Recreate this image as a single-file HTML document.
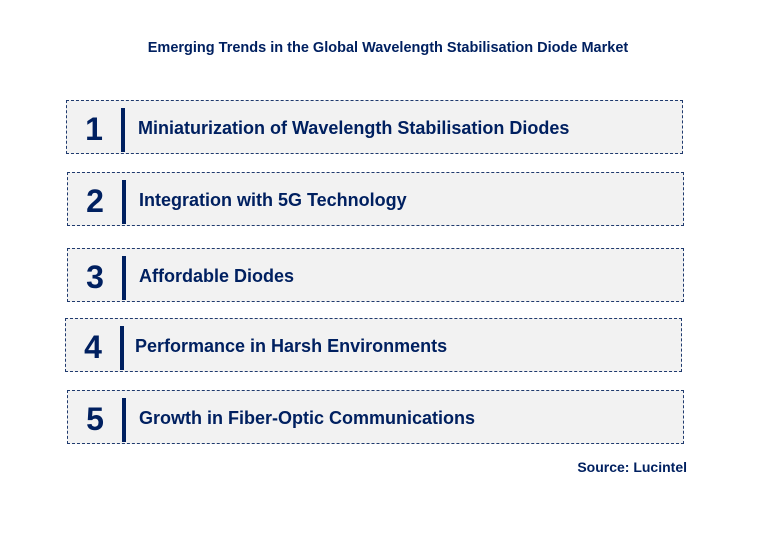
<!DOCTYPE html>
<html><head><meta charset="utf-8"><style>
body{margin:0;width:776px;height:541px;background:#fff;font-family:"Liberation Sans",sans-serif;position:relative;overflow:hidden;color:#002060}
.t{position:absolute;left:0;width:776px;text-align:center;top:40px;font-size:14.5px;font-weight:bold}
.box{position:absolute;width:617px;height:54px;background:#f2f2f2;border:1px dashed #1f3a6e;box-sizing:border-box}
.n{position:absolute;left:14px;width:26px;text-align:center;top:10px;font-size:32px;font-weight:bold}
.bar{position:absolute;left:54px;top:7px;width:4px;height:44px;background:#002060}
.lbl{position:absolute;left:71px;top:17px;font-size:18px;font-weight:bold;white-space:nowrap}
.src{position:absolute;right:89px;top:459px;font-size:14px;font-weight:bold}
</style></head><body>
<div class="t">Emerging Trends in the Global Wavelength Stabilisation Diode Market</div>
<div class="box" style="left:66px;top:100px"><div class="n">1</div><div class="bar"></div><div class="lbl">Miniaturization of Wavelength Stabilisation Diodes</div></div>
<div class="box" style="left:67px;top:172px"><div class="n">2</div><div class="bar"></div><div class="lbl">Integration with 5G Technology</div></div>
<div class="box" style="left:67px;top:248px"><div class="n">3</div><div class="bar"></div><div class="lbl">Affordable Diodes</div></div>
<div class="box" style="left:65px;top:318px"><div class="n">4</div><div class="bar"></div><div class="lbl" style="left:69px">Performance in Harsh Environments</div></div>
<div class="box" style="left:67px;top:390px"><div class="n">5</div><div class="bar"></div><div class="lbl">Growth in Fiber-Optic Communications</div></div>
<div class="src">Source: Lucintel</div>
</body></html>
